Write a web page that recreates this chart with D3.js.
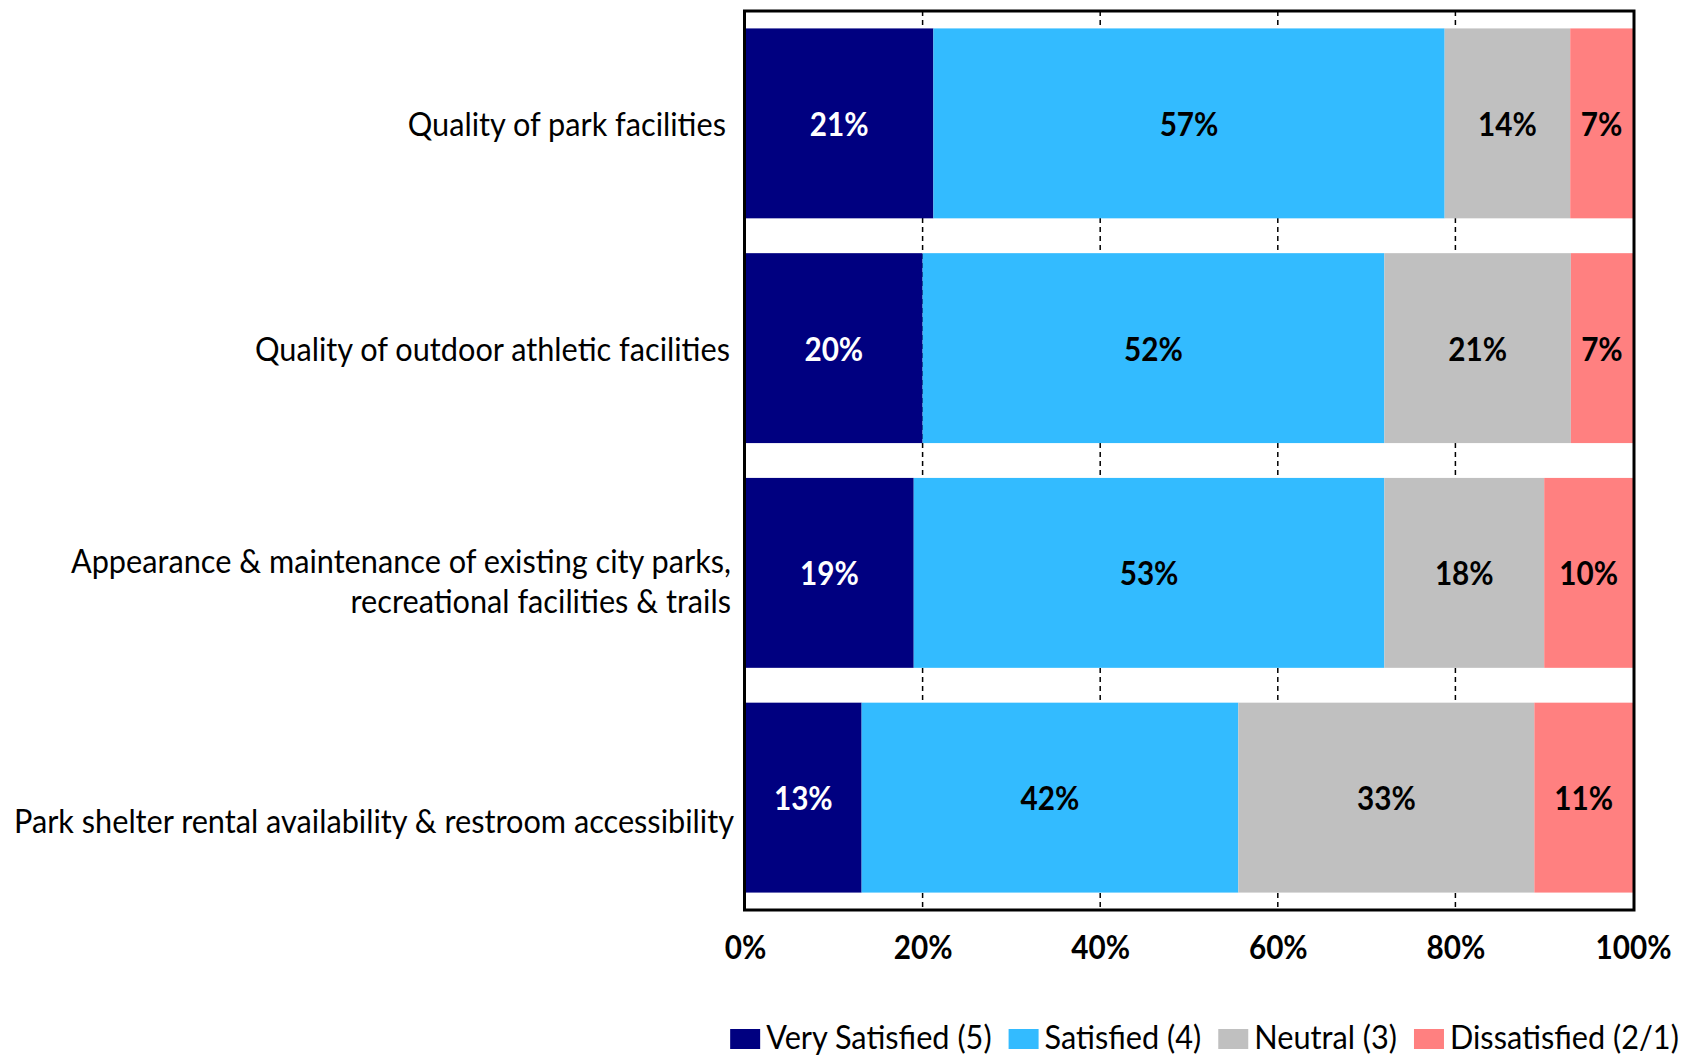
<!DOCTYPE html>
<html>
<head>
<meta charset="utf-8">
<script src="https://cdn.jsdelivr.net/npm/d3@7"></script>
<style>
  html, body { margin: 0; padding: 0; background: #ffffff; }
  svg { display: block; }
  text { font-family: Lato, "Open Sans", sans-serif; fill: #000; }
</style>
</head>
<body>
<svg id="chart" width="1685" height="1057"></svg>
<script>
// Survey items (top to bottom); "\n" marks a line break in the label
const categories = [
  "Quality of park facilities",
  "Quality of outdoor athletic facilities",
  "Appearance & maintenance of existing city parks,\nrecreational facilities & trails",
  "Park shelter rental availability & restroom accessibility"
];

// Response categories, in stacking order
const seriesNames = ["Very Satisfied (5)", "Satisfied (4)", "Neutral (3)", "Dissatisfied (2/1)"];

// Percent of respondents per item
const verySatisfied = [21, 20, 19, 13];
const satisfied     = [57, 52, 53, 42];
const neutral       = [14, 21, 18, 33];
const dissatisfied  = [7, 7, 10, 11];

// Axis ticks
const tickValues = [0, 0.2, 0.4, 0.6, 0.8, 1];
const tickLabels = ["0%", "20%", "40%", "60%", "80%", "100%"];

// ---- layout & style ----
const colors = ["#000080", "#33bbff", "#c0c0c0", "#ff8080"];
const labelColors = ["#ffffff", "#000000", "#000000", "#000000"];
const plot = { left: 745, right: 1633, top: 11, bottom: 910 };
const FONT = 33;
const SQ_REG = 0.93;   // horizontal condensing, regular text
const SQ_BOLD = 0.9;   // horizontal condensing, bold text
const labelNudge = [[-5, 0], [-1, 0], [0, 8], [3, 23]]; // [dx, dy] per category label
const lineGap = 40;

const svg = d3.select("#chart");

const rows = categories.map((c, i) => ({
  category: c,
  [seriesNames[0]]: verySatisfied[i],
  [seriesNames[1]]: satisfied[i],
  [seriesNames[2]]: neutral[i],
  [seriesNames[3]]: dissatisfied[i]
}));

const stacked = d3.stack().keys(seriesNames).offset(d3.stackOffsetExpand)(rows);

const x = d3.scaleLinear().domain([0, 1]).range([plot.left, plot.right]);
const y = d3.scaleBand().domain(categories).range([plot.top, plot.bottom])
  .paddingInner(0.155).paddingOuter(0.0775);

// dashed vertical gridlines (behind the bars)
svg.append("g")
  .selectAll("line")
  .data(tickValues.slice(1, -1))
  .join("line")
  .attr("x1", d => x(d)).attr("x2", d => x(d))
  .attr("y1", plot.top).attr("y2", plot.bottom)
  .attr("stroke", "#000")
  .attr("stroke-width", 1.5)
  .attr("stroke-dasharray", "5,4");

// stacked bars
const layers = svg.append("g")
  .selectAll("g")
  .data(stacked)
  .join("g")
  .attr("fill", (d, i) => colors[i]);

layers.selectAll("rect")
  .data(d => d)
  .join("rect")
  .attr("x", d => x(d[0]))
  .attr("width", d => x(d[1]) - x(d[0]))
  .attr("y", d => y(d.data.category))
  .attr("height", y.bandwidth());

// value labels, centred in each segment
svg.append("g")
  .selectAll("g")
  .data(stacked)
  .join("g")
  .each(function (layer, li) {
    d3.select(this).selectAll("text")
      .data(layer)
      .join("text")
      .attr("transform", d =>
        `translate(${x((d[0] + d[1]) / 2)},${y(d.data.category) + y.bandwidth() / 2}) scale(${SQ_BOLD},1)`)
      .attr("text-anchor", "middle")
      .attr("dominant-baseline", "central")
      .style("fill", labelColors[li])
      .attr("font-size", FONT)
      .attr("font-weight", 700)
      .text(d => d.data[layer.key] + "%");
  });

// plot frame
svg.append("rect")
  .attr("x", plot.left - 0.5).attr("y", plot.top)
  .attr("width", plot.right - plot.left + 1.5).attr("height", plot.bottom - plot.top)
  .attr("fill", "none").attr("stroke", "#000").attr("stroke-width", 3);

// category labels
const catG = svg.append("g")
  .selectAll("text")
  .data(categories)
  .join("text")
  .attr("text-anchor", "end")
  .attr("font-size", FONT)
  .attr("transform", (d, i) =>
    `translate(${plot.left - 14 + labelNudge[i][0]},${y(d) + y.bandwidth() / 2 + labelNudge[i][1]}) scale(${SQ_REG},1)`);

catG.each(function (d) {
  const lines = d.split("\n");
  const t = d3.select(this);
  lines.forEach((line, j) => {
    t.append("tspan")
      .attr("x", 0)
      .attr("y", (j - (lines.length - 1) / 2) * lineGap)
      .attr("dominant-baseline", "central")
      .text(line);
  });
});

// x axis tick labels
const axis = d3.axisBottom(x).tickValues(tickValues)
  .tickFormat((d, i) => tickLabels[i]).tickSize(0).tickPadding(0);
const axisG = svg.append("g").attr("transform", `translate(0,${plot.bottom})`).call(axis);
axisG.select(".domain").remove();
axisG.selectAll("text")
  .attr("font-family", null)
  .attr("font-size", FONT)
  .attr("font-weight", 700)
  .attr("dy", null)
  .attr("y", 0)
  .attr("transform", `translate(0,36) scale(${SQ_BOLD},1)`)
  .attr("dominant-baseline", "central")
  .style("fill", "#000");

// legend
const legendY = 1039;
const swW = 30, swH = 20, swGap = 6, itemGap = 17;
const legend = svg.append("g");
const items = legend.selectAll("g").data(seriesNames).join("g");
items.append("rect")
  .attr("width", swW).attr("height", swH)
  .attr("y", legendY - swH / 2)
  .attr("fill", (d, i) => colors[i]);
const legendText = items.append("text")
  .attr("transform", `translate(${swW + swGap},${legendY - 2}) scale(${SQ_REG},1)`)
  .attr("dominant-baseline", "central")
  .attr("font-size", FONT)
  .text(d => d);

let cursor = 0;
const widths = [];
legendText.each(function () { widths.push(this.getComputedTextLength() * SQ_REG); });
const offsets = widths.map(w => { const o = cursor; cursor += swW + swGap + w + itemGap; return o; });
const totalW = cursor - itemGap;
const legendStart = 1204.5 - totalW / 2;
items.attr("transform", (d, i) => `translate(${legendStart + offsets[i]},0)`);
</script>
</body>
</html>
